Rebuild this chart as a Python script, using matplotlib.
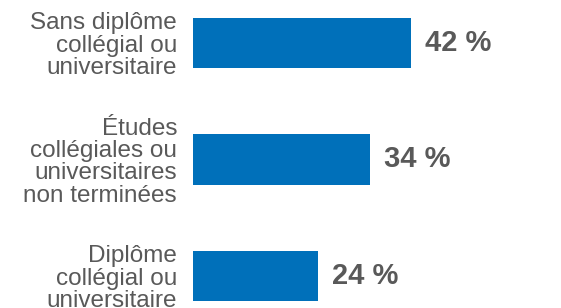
import matplotlib.pyplot as plt

# categories and values (percent)
categories = ["Sans diplôme\ncollégial ou\nuniversitaire",
              "Études\ncollégiales ou\nuniversitaires\nnon terminées",
              "Diplôme\ncollégial ou\nuniversitaire"]
values = [42, 34, 24]

bar_color = "#0070BA"
text_color = "#595959"

plt.rcParams['font.family'] = ['Liberation Sans', 'DejaVu Sans']

fig = plt.figure(figsize=(5.61, 3.08), dpi=100)
ax = fig.add_axes([193 / 561, 0, 1 - 193 / 561, 1])

pos = list(range(len(values)))
ax.barh(pos, values, height=0.43, color=bar_color)

ax.set_xlim(0, 368 / 5.2)
ax.set_ylim(2.275, -0.369)

ax.set_yticks(pos)
ax.set_yticklabels(categories, fontsize=17.5, color=text_color, ha='right')
for lbl in ax.get_yticklabels():
    lbl.set_linespacing(1.02)
ax.tick_params(axis='y', length=0, pad=11.5)
ax.set_xticks([])

for s in ax.spines.values():
    s.set_visible(False)

# value labels
for p, v in zip(pos, values):
    ax.annotate(f"{v} %", xy=(v, p), xytext=(10, 0), textcoords='offset points',
                va='center', ha='left', fontsize=21, fontweight='bold', color=text_color)

fig.savefig("out.png", dpi=100)
